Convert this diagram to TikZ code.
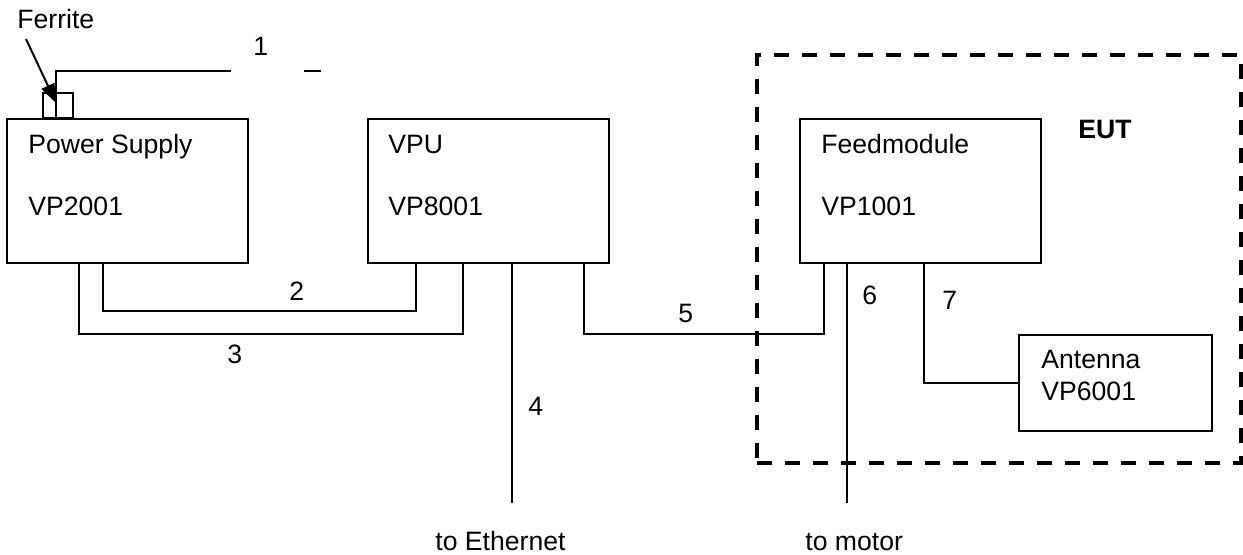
\documentclass[tikz,border=0pt]{standalone}
\usepackage{fontspec}
\setmainfont{Liberation Sans}
\usetikzlibrary{calc,arrows.meta}

\tikzset{
  unitbox/.style={draw, line width=1pt, outer sep=0pt, inner sep=0pt,
    minimum width=120.5pt, minimum height=72pt},
  lbl/.style={anchor=base west, inner sep=0pt, font=\fontsize{13.3}{15}\selectfont},
  wire/.style={line width=1pt},
}

\begin{document}
\begin{tikzpicture}[x=0.5pt, y=-0.5pt]
            \useasboundingbox (0,0) rectangle (1243,555);

            % units
            \node[unitbox] (ps) at (127.5,191) {};
            \node[unitbox] (vpu) at (488.5,191) {};
            \node[unitbox] (fm) at (920,191) {};
            \node[unitbox, minimum width=96.5pt, minimum height=48pt] (ant) at (1115.5,383) {};
            \node[unitbox, minimum width=15pt, minimum height=12.5pt] (fer) at (58,105.5) {};
            \node[draw, line width=2pt, dash pattern=on 7.5pt off 6.5pt, outer sep=0pt,
                  minimum width=242pt, minimum height=204pt] (eut) at (999,259) {};

            % free ends
            \coordinate (c1) at (231,71);
            \coordinate (d1a) at (304,71);
            \coordinate (d1b) at (321,71);
            \coordinate (eth) at (512,503);
            \coordinate (mot) at (847,503);
            \coordinate (arrtail) at (26,39);
            \coordinate (arrtip) at (56,103);

            % cables
            \draw[wire] ($(ps.north west)+(49,0)$) |- (c1);
            \draw[wire] (d1a) -- (d1b);
            \draw[wire] ($(ps.south west)+(96,0)$) -- ++(0,48) -| ($(vpu.south west)+(48,0)$);
            \draw[wire] ($(ps.south west)+(72,0)$) -- ++(0,71) -| ($(vpu.south west)+(95,0)$);
            \draw[wire] ($(vpu.south west)+(144,0)$) -- (eth);
            \draw[wire] ($(vpu.south west)+(216,0)$) -- ++(0,71) -| ($(fm.south west)+(24.5,0)$);
            \draw[wire] ($(fm.south west)+(47.5,0)$) -- (mot);
            \draw[wire] ($(fm.south west)+(124.5,0)$) |- (ant.west);
            \draw[line width=1pt, -{Triangle[length=9.5pt,width=7pt]}] (arrtail) -- (arrtip);

            % texts
            \node[lbl] (tfer) at (17,29) {Ferrite};
            \node[lbl] (t1) at (253,56) {1};
            \node[lbl] (tps) at (28,154) {Power Supply};
            \node[lbl] (tps2) at (28,216) {VP2001};
            \node[lbl] (tvpu) at (388,154) {VPU};
            \node[lbl] (tvpu2) at (388,216) {VP8001};
            \node[lbl] (tfm) at (821,154) {Feedmodule};
            \node[lbl] (tfm2) at (821,216) {VP1001};
            \node[lbl, font=\fontsize{13.3}{15}\selectfont\bfseries] (teut) at (1078,139) {EUT};
            \node[lbl] (tant) at (1041,369) {Antenna};
            \node[lbl] (tant2) at (1041,401) {VP6001};
            \node[lbl] (t2) at (289,301) {2};
            \node[lbl] (t3) at (227,364) {3};
            \node[lbl] (t4) at (528,416) {4};
            \node[lbl] (t5) at (678,323) {5};
            \node[lbl] (t6) at (862,305) {6};
            \node[lbl] (t7) at (942,310) {7};
            \node[lbl] (teth) at (435,551) {to Ethernet};
            \node[lbl] (tmot) at (805,551) {to motor};
\end{tikzpicture}
\end{document}
